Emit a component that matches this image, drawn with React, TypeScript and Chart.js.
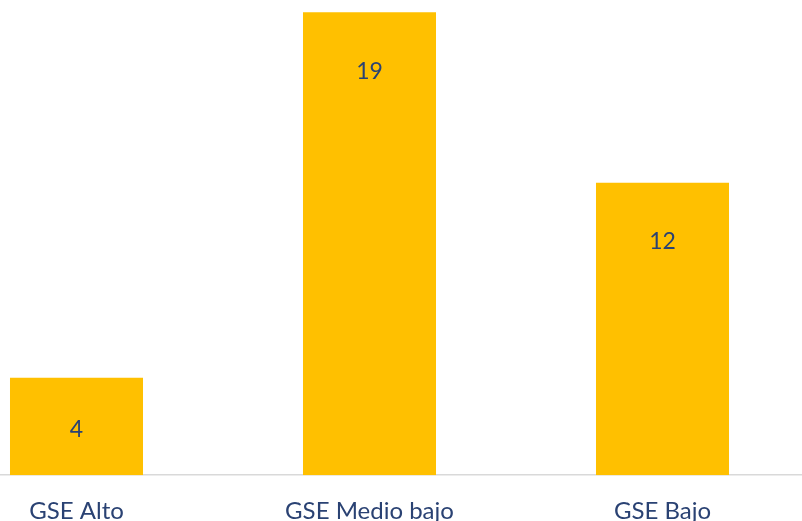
import React, { useEffect, useRef } from "react";
import { Chart, registerables } from "chart.js";

Chart.register(...registerables);

const categories = ["GSE Alto", "GSE Medio bajo", "GSE Bajo"];
const values = [4, 19, 12];

const BAR_COLOR = "#FFC000";
const TEXT_COLOR = "#2A4273";
const FONT = "Lato, 'Open Sans', sans-serif";

const labelPlugin = {
  id: "insideLabels",
  afterDatasetsDraw(chart: any) {
    const ctx = chart.ctx;
    const meta = chart.getDatasetMeta(0);
    ctx.save();
    ctx.font = "23px " + FONT;
    ctx.fillStyle = TEXT_COLOR;
    ctx.textAlign = "center";
    ctx.textBaseline = "middle";
    meta.data.forEach((bar: any, i: number) => {
      const top = bar.y;
      const base = bar.base;
      const y = Math.min(top + 59, (top + base) / 2 + 3);
      ctx.fillText(String(values[i]), bar.x, y);
    });
    ctx.restore();
  },
};

export default function App() {
  const ref = useRef<HTMLCanvasElement | null>(null);
  useEffect(() => {
    if (!ref.current) return;
    const chart = new Chart(ref.current, {
      type: "bar",
      data: {
        labels: categories,
        datasets: [
          {
            data: values,
            backgroundColor: BAR_COLOR,
            borderWidth: 0,
            barPercentage: 0.454,
            categoryPercentage: 1,
          },
        ],
      },
      options: {
        animation: false,
        responsive: false,
        maintainAspectRatio: false,
        layout: { padding: { top: 0, bottom: 0, left: 0, right: 0 } },
        plugins: {
          legend: { display: false },
          tooltip: { enabled: false },
        },
        scales: {
          x: {
            grid: { display: false, drawTicks: false },
            border: { display: true, color: "#D9D9D9", width: 1.5 },
            ticks: {
              color: TEXT_COLOR,
              font: { family: FONT, size: 24 },
              padding: 22,
              maxRotation: 0,
            },
          },
          y: {
            display: false,
            min: 0,
            max: 19.5,
          },
        },
      },
      plugins: [labelPlugin],
    });
    return () => chart.destroy();
  }, []);
  return (
    <div
      style={{
        position: "fixed",
        left: 0,
        top: 0,
        width: 802,
        height: 521,
        overflow: "hidden",
        background: "#fff",
      }}
    >
      <canvas
        ref={ref}
        width={879}
        height={548}
        style={{ position: "absolute", left: -70, top: 0, width: 879, height: 548 }}
      />
    </div>
  );
}
